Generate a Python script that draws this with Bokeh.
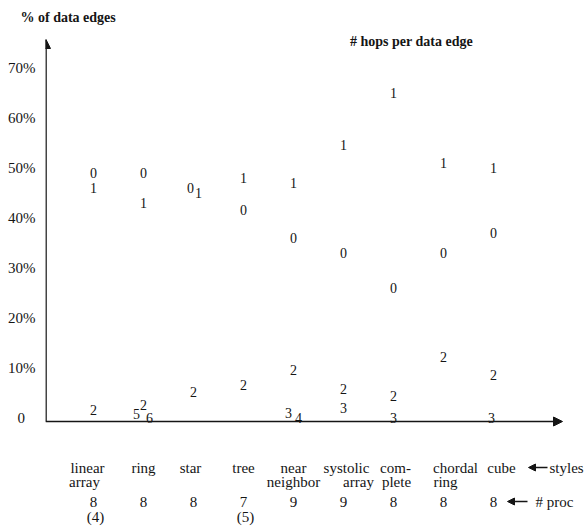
from bokeh.plotting import figure
from bokeh.models import Range1d, FixedTicker, Arrow, NormalHead, Label
from bokeh.core.properties import value
from bokeh.embed import file_html
from bokeh.resources import INLINE

# ---------------- data ----------------
categories = ["linear array", "ring", "star", "tree", "near neighbor",
              "systolic array", "complete", "chordal ring", "cube"]
style_line1 = ["linear", "ring", "star", "tree", "near", "systolic", "com-", "chordal", "cube"]
style_line2 = ["array", "", "", "", "neighbor", "array", "plete", "ring", ""]
num_proc = ["8", "8", "8", "7", "9", "9", "8", "8", "8"]
proc_note = ["(4)", "", "", "(5)", "", "", "", "", ""]

# % of data edges needing a given number of hops (None = not shown)
pct_hop0 = [49, 49, 46, 41.5, 36, 33, 26, 33, 37]
pct_hop1 = [46, 43, 45, 48, 47, 54.5, 65, 51, 50]
pct_hop2 = [1.5, 2.6, 5.2, 6.5, 9.5, 5.8, 4.4, 12.2, 8.6]
pct_hop3 = [None, None, None, None, 1.0, 2.0, 0, None, 0]
pct_hop4 = [None, None, None, None, 0, None, None, None, None]
pct_hop5 = [None, 0.8, None, None, None, None, None, None, None]
pct_hop6 = [None, 0, None, None, None, None, None, None, None]

y_ticks = [0, 10, 20, 30, 40, 50, 60, 70]
y_tick_labels = ["0\u2002\u2009", "10%", "20%", "30%", "40%", "50%", "60%", "70%"]

# ---------------- layout / style ----------------
FONT = "Liberation Serif"
INK = "#151515"
W, H = 584, 527
BORDER_L = 45
BORDER_T = 30
PX_X, PX_Y = 50.0, 5.0          # pixels per category step / per percent
X0 = -0.96
X1 = X0 + (W - BORDER_L) / PX_X
Y1 = 77.4
Y0 = Y1 - (H - BORDER_T) / PX_Y
BASE_Y = -0.8

# small horizontal nudges where labels of one style collide
nudge = {(0, 2): -0.06, (1, 2): 0.10, (5, 1): -0.14, (6, 1): 0.12,
         (3, 4): -0.10, (4, 4): 0.10, (3, 8): -0.04}

p = figure(width=W, height=H, output_backend="svg", toolbar_location=None,
           x_range=Range1d(X0, X1), y_range=Range1d(Y0, Y1),
           x_axis_type=None, min_border_left=BORDER_L, min_border_right=0,
           min_border_top=BORDER_T, min_border_bottom=0)
p.outline_line_color = None
p.grid.visible = False
p.background_fill_color = "white"
p.border_fill_color = "white"

p.title.text = "% of data edges"
p.title.align = "left"
p.title.offset = 20 - BORDER_L
p.title.text_font = FONT
p.title.text_font_size = "14px"
p.title.text_font_style = "bold"
p.title.text_color = INK
p.title.vertical_align = "middle"

ya = p.yaxis[0]
ya.ticker = FixedTicker(ticks=y_ticks)
ya.major_label_overrides = {t: l for t, l in zip(y_ticks, y_tick_labels)}
ya.axis_line_color = None
ya.major_tick_line_color = None
ya.minor_tick_line_color = None
ya.major_tick_out = 0
ya.major_tick_in = 0
ya.major_label_standoff = 10
ya.major_label_text_font = FONT
ya.major_label_text_font_size = "15px"
ya.major_label_text_color = INK

# hop-count labels
xs, ys, ts = [], [], []
for h, series in enumerate([pct_hop0, pct_hop1, pct_hop2, pct_hop3, pct_hop4, pct_hop5, pct_hop6]):
    for i, v in enumerate(series):
        if v is None:
            continue
        xs.append(i + nudge.get((h, i), 0.0))
        ys.append(v)
        ts.append(str(h))
p.text(x=xs, y=ys, text=ts, text_align="center", text_baseline="middle",
       text_font=value(FONT), text_font_size="14px", text_color=INK)

# category labels under the axis
idx = list(range(len(categories)))
l1_nudge = [-0.12, 0, -0.06, 0, 0, 0.06, 0.04, 0.24, 0.16]
l2_nudge = [-0.18, 0, 0, 0, 0, 0.30, 0.06, 0.04, 0]
row_style = dict(text_align="center", text_baseline="middle", text_font=value(FONT),
                 text_font_size="15px", text_color=INK)
p.text(x=[i + n for i, n in zip(idx, l1_nudge)], y=[-10.0] * len(idx), text=style_line1, **row_style)
p.text(x=[i + n for i, n in zip(idx, l2_nudge)], y=[-12.8] * len(idx), text=style_line2, **row_style)
p.text(x=idx, y=[-16.8] * len(idx), text=num_proc, **row_style)
p.text(x=[i + 0.04 for i in idx], y=[-19.8] * len(idx), text=proc_note, **row_style)

p.text(x=[9.12, 8.84], y=[-10.0, -16.8], text=["styles", "# proc"],
       text_align="left", text_baseline="middle", text_font=value(FONT),
       text_font_size="15px", text_color=INK)

# axes drawn as arrows
p.add_layout(Arrow(end=NormalHead(size=9, fill_color=INK, line_color=INK),
                   x_start=X0 + 0.01, y_start=BASE_Y, x_end=X0 + 0.01, y_end=75.6,
                   line_width=1.6, line_color=INK))
p.add_layout(Arrow(end=NormalHead(size=9, fill_color=INK, line_color=INK),
                   x_start=X0, y_start=BASE_Y, x_end=9.38, y_end=BASE_Y,
                   line_width=1.6, line_color=INK))
p.add_layout(Arrow(end=NormalHead(size=7, fill_color=INK, line_color=INK),
                   x_start=9.08, y_start=-10.0, x_end=8.70, y_end=-10.0,
                   line_width=1.4, line_color=INK))
p.add_layout(Arrow(end=NormalHead(size=7, fill_color=INK, line_color=INK),
                   x_start=8.68, y_start=-16.8, x_end=8.28, y_end=-16.8,
                   line_width=1.4, line_color=INK))

p.add_layout(Label(x=6.36, y=75.2, text="# hops per data edge", text_font=FONT,
                   text_font_size="14px", text_font_style="bold", text_color=INK,
                   text_align="center", text_baseline="middle"))

open("out.html", "w").write(file_html(p, INLINE))
